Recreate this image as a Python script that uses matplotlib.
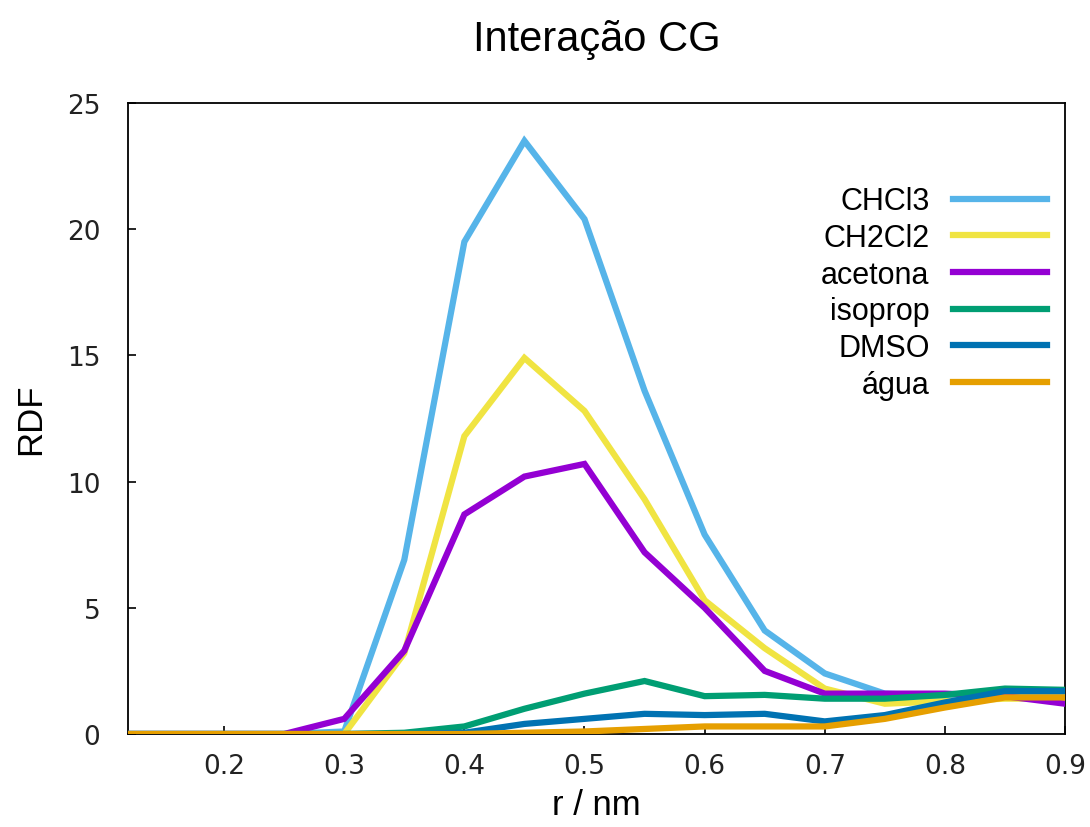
import numpy as np
import matplotlib
matplotlib.use('Agg')
import matplotlib.pyplot as plt

# r values (nm), 0.05 step
r = [0.10, 0.15, 0.20, 0.25, 0.30, 0.35, 0.40, 0.45, 0.50,
     0.55, 0.60, 0.65, 0.70, 0.75, 0.80, 0.85, 0.90]

chcl3 = [0, 0, 0, 0, 0.1, 6.9, 19.5, 23.5, 20.4, 13.6, 7.9, 4.1, 2.4, 1.6, 1.5, 1.6, 1.5]
ch2cl2 = [0, 0, 0, 0, 0, 3.2, 11.8, 14.9, 12.8, 9.3, 5.3, 3.4, 1.8, 1.2, 1.3, 1.4, 1.4]
acetona = [0, 0, 0, 0, 0.6, 3.3, 8.7, 10.2, 10.7, 7.2, 5.0, 2.5, 1.6, 1.6, 1.6, 1.5, 1.2]
isoprop = [0, 0, 0, 0, 0, 0.05, 0.3, 1.0, 1.6, 2.1, 1.5, 1.55, 1.4, 1.4, 1.55, 1.8, 1.75]
dmso = [0, 0, 0, 0, 0, 0, 0.05, 0.4, 0.6, 0.8, 0.75, 0.8, 0.5, 0.75, 1.25, 1.7, 1.7]
agua = [0, 0, 0, 0, 0, 0, 0, 0.05, 0.1, 0.2, 0.3, 0.3, 0.3, 0.6, 1.05, 1.45, 1.45]

labels = ['CHCl3', 'CH2Cl2', 'acetona', 'isoprop', 'DMSO', 'água']
colors = ['#56b4e9', '#f0e442', '#9400d3', '#009e73', '#0072b2', '#e69f00']
series = [chcl3, ch2cl2, acetona, isoprop, dmso, agua]

label_font = 'Liberation Sans'
plt.rcParams['font.family'] = ['DejaVu Sans']

fig = plt.figure(figsize=(10.9, 8.28), dpi=100)
ax = fig.add_axes([0.1174, 0.1123, 0.8597, 0.7621])

for y, c, lab in zip(series, colors, labels):
    ax.plot(r, y, color=c, linewidth=4.5, label=lab, solid_joinstyle='miter')

ax.set_xlim(0.12, 0.9)
ax.set_ylim(0, 25)
ax.set_xticks([0.2, 0.3, 0.4, 0.5, 0.6, 0.7, 0.8, 0.9])
ax.set_xticklabels(['0.2', '0.3', '0.4', '0.5', '0.6', '0.7', '0.8', '0.9'])
ax.set_yticks([0, 5, 10, 15, 20, 25])
ax.tick_params(direction='in', length=6, width=1.2, labelsize=19,
               top=False, right=False, colors='black')
ax.tick_params(axis='x', pad=14)
ax.tick_params(axis='y', pad=20)
for t in ax.get_xticklabels() + ax.get_yticklabels():
    t.set_family('DejaVu Sans')
    t.set_color('#222222')
for s in ax.spines.values():
    s.set_linewidth(1.3)
    s.set_zorder(0)

ax.set_title('Interação CG', fontsize=30, family=label_font, pad=38)
ax.set_xlabel('r / nm', fontsize=25, family=label_font, labelpad=6)
ax.set_ylabel('RDF', fontsize=25, family=label_font, labelpad=14)

leg = ax.legend(loc='upper right', bbox_to_anchor=(0.981, 0.868),
                frameon=False, markerfirst=False, handlelength=3.1,
                handletextpad=0.75, labelspacing=0.22, borderpad=0,
                borderaxespad=0, prop={'family': label_font, 'size': 22})

plt.savefig('out.png', dpi=100)
